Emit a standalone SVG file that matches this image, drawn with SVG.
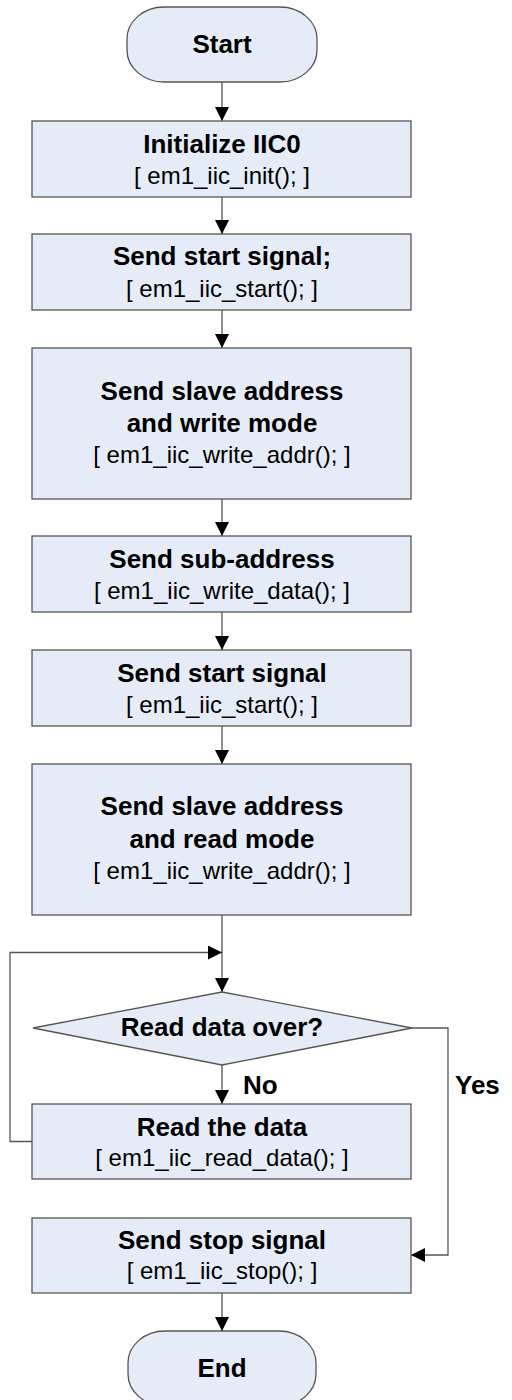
<svg xmlns="http://www.w3.org/2000/svg" width="512" height="1400" viewBox="0 0 512 1400">
  <style>
    .shape { fill: #E6ECF7; stroke: #555555; stroke-width: 1.3; }
    .link { fill: none; stroke: #555555; stroke-width: 1.3; }
    .title { font-family: "Liberation Sans", Arial, sans-serif; font-weight: bold; font-size: 26px; fill: #000; text-anchor: middle; }
    .code { font-family: "Liberation Sans", Arial, sans-serif; font-size: 24px; fill: #000; text-anchor: middle; }
    .label { font-family: "Liberation Sans", Arial, sans-serif; font-weight: bold; font-size: 26px; fill: #000; }
  </style>
  <defs>
    <marker id="arrow" viewBox="0 0 14 14" refX="14" refY="7" markerWidth="14" markerHeight="14" markerUnits="userSpaceOnUse" orient="auto">
      <path d="M0,0 L14,7 L0,14 Z" fill="#000"/>
    </marker>
  </defs>

  <rect width="512" height="1400" fill="#ffffff"/>

  <!-- connectors -->
  <g id="connectors">
    <line class="link" x1="222" y1="82" x2="222" y2="121" marker-end="url(#arrow)"/>
    <line class="link" x1="222" y1="197" x2="222" y2="234" marker-end="url(#arrow)"/>
    <line class="link" x1="222" y1="310" x2="222" y2="348" marker-end="url(#arrow)"/>
    <line class="link" x1="222" y1="499" x2="222" y2="536" marker-end="url(#arrow)"/>
    <line class="link" x1="222" y1="612" x2="222" y2="650" marker-end="url(#arrow)"/>
    <line class="link" x1="222" y1="726" x2="222" y2="764" marker-end="url(#arrow)"/>
    <line class="link" x1="222" y1="915" x2="222" y2="992" marker-end="url(#arrow)"/>
    <!-- loop back from "Read the data" -->
    <polyline class="link" points="32,1141.5 10,1141.5 10,952.5 222,952.5" marker-end="url(#arrow)"/>
    <!-- No branch -->
    <line class="link" x1="222" y1="1065" x2="222" y2="1104" marker-end="url(#arrow)"/>
    <!-- Yes branch -->
    <polyline class="link" points="412,1028 448,1028 448,1255 411,1255" marker-end="url(#arrow)"/>
    <line class="link" x1="222" y1="1293" x2="222" y2="1331" marker-end="url(#arrow)"/>
    <text class="label" x="243" y="1094">No</text>
    <text class="label" x="455" y="1094">Yes</text>
  </g>

  <g id="start">
    <rect class="shape" x="127" y="7" width="190" height="75" rx="37" ry="32"/>
    <text class="title" x="222" y="53">Start</text>
  </g>

  <g id="init">
    <rect class="shape" x="32" y="121" width="379" height="76"/>
    <text class="title" x="222" y="153">Initialize IIC0</text>
    <text class="code" x="222" y="184">[ em1_iic_init(); ]</text>
  </g>

  <g id="start-signal-1">
    <rect class="shape" x="32" y="234" width="379" height="76"/>
    <text class="title" x="222" y="265">Send start signal;</text>
    <text class="code" x="222" y="297">[ em1_iic_start(); ]</text>
  </g>

  <g id="addr-write">
    <rect class="shape" x="32" y="348" width="379" height="151"/>
    <text class="title" x="222" y="400">Send slave address</text>
    <text class="title" x="222" y="432">and write mode</text>
    <text class="code" x="222" y="463">[ em1_iic_write_addr(); ]</text>
  </g>

  <g id="sub-address">
    <rect class="shape" x="32" y="536" width="379" height="76"/>
    <text class="title" x="222" y="568">Send sub-address</text>
    <text class="code" x="222" y="599">[ em1_iic_write_data(); ]</text>
  </g>

  <g id="start-signal-2">
    <rect class="shape" x="32" y="650" width="379" height="76"/>
    <text class="title" x="222" y="682">Send start signal</text>
    <text class="code" x="222" y="713">[ em1_iic_start(); ]</text>
  </g>

  <g id="addr-read">
    <rect class="shape" x="32" y="764" width="379" height="151"/>
    <text class="title" x="222" y="815">Send slave address</text>
    <text class="title" x="222" y="848">and read mode</text>
    <text class="code" x="222" y="879">[ em1_iic_write_addr(); ]</text>
  </g>

  <g id="decision">
    <polygon class="shape" points="222,992 412,1028 222,1065 33,1028"/>
    <text class="title" x="222" y="1036">Read data over?</text>
  </g>

  <g id="read-data">
    <rect class="shape" x="32" y="1104" width="379" height="75"/>
    <text class="title" x="222" y="1136">Read the data</text>
    <text class="code" x="222" y="1166">[ em1_iic_read_data(); ]</text>
  </g>

  <g id="stop-signal">
    <rect class="shape" x="32" y="1218" width="379" height="75"/>
    <text class="title" x="222" y="1249">Send stop signal</text>
    <text class="code" x="222" y="1279">[ em1_iic_stop(); ]</text>
  </g>

  <g id="end">
    <rect class="shape" x="128" y="1331" width="188" height="75" rx="37" ry="32"/>
    <text class="title" x="222" y="1377">End</text>
  </g>
</svg>
